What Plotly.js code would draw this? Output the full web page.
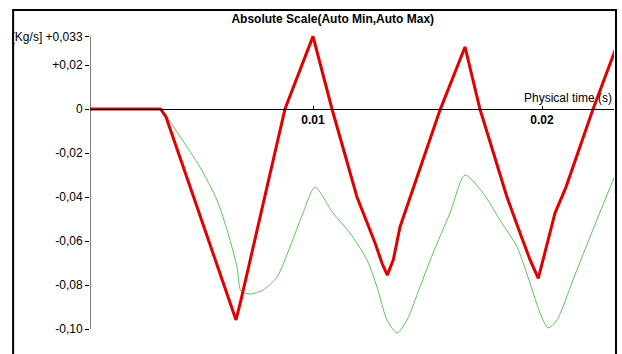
<!DOCTYPE html>
<html>
<head>
<meta charset="utf-8">
<script src="https://cdn.plot.ly/plotly-3.0.1.min.js"></script>
<style>html,body{margin:0;padding:0;background:#fff;}#chart{width:622px;height:354px;}</style>
</head>
<body>
<div id="chart"></div>
<script>
// Red series (thick)
const redTime = [0, 0.003341, 0.003581, 0.006376, 0.006638, 0.006856, 0.008777, 0.01,
  0.01083, 0.01192, 0.01271, 0.01301, 0.013245,
  0.013507, 0.013799, 0.015546, 0.016638,
  0.01729, 0.01847, 0.01904, 0.01948, 0.019838,
  0.020568, 0.021048, 0.02223, 0.02323];
const redValue = [0, 0, -0.0036, -0.0877, -0.0959, -0.0868, 0, 0.033,
  0, -0.04, -0.0609, -0.07, -0.0755,
  -0.0686, -0.0536, -0.0005, 0.0282,
  0, -0.04, -0.0564, -0.0686, -0.077,
  -0.0473, -0.0355, 0, 0.0277];
// Green series (thin)
const greenTime = [0.003393, 0.004236, 0.005066, 0.005808, 0.006288, 0.006681, 0.006856,
  0.007249, 0.007817, 0.008428, 0.008996, 0.009563, 0.010087,
  0.010873, 0.011616, 0.012358, 0.012795, 0.013231, 0.013668,
  0.014105, 0.014672, 0.015240, 0.015983, 0.016638,
  0.017424, 0.018166, 0.018908, 0.019476, 0.019913, 0.020262,
  0.020655, 0.021354, 0.022096, 0.023231];
const greenValue = [0, -0.0132, -0.0264, -0.0414, -0.0564, -0.0718, -0.0827,
  -0.0841, -0.0823, -0.0764, -0.0627, -0.0473, -0.0355,
  -0.0473, -0.0564, -0.0686, -0.0809, -0.0959, -0.1018,
  -0.0959, -0.0809, -0.0655, -0.0473, -0.030,
  -0.0382, -0.0505, -0.0627, -0.0791, -0.0927, -0.0995,
  -0.0959, -0.0777, -0.0582, -0.0291];

const yTickVals = [0.033, 0.02, 0, -0.02, -0.04, -0.06, -0.08, -0.10];
const yTickText = ['[Kg/s] +0,033', '+0,02', '0', '-0,02', '-0,04', '-0,06', '-0,08', '-0,10'];
const xTickVals = [0.01, 0.02];
const xTickText = ['0.01', '0.02'];

const xRange = [0.000262, 0.023144];
const yRange = [-0.105, 0.035909];
const xAxisPos = (0 - yRange[0]) / (yRange[1] - yRange[0]);

const font = {family: 'Liberation Sans, Arial, sans-serif', size: 12, color: '#000'};

const traces = [
  {x: greenTime, y: greenValue, type: 'scatter', mode: 'lines',
   line: {color: '#5cc45c', width: 1, shape: 'spline', smoothing: 0.7}, hoverinfo: 'skip'},
  {x: redTime, y: redValue, type: 'scatter', mode: 'lines',
   line: {color: '#e00000', width: 3}, hoverinfo: 'skip'}
];

const layout = {
  width: 622, height: 354,
  margin: {l: 90, r: 8, t: 30, b: 14},
  paper_bgcolor: '#fff', plot_bgcolor: '#fff',
  showlegend: false,
  font: font,
  title: {text: 'Absolute Scale(Auto Min,Auto Max)', font: {family: font.family, size: 12, color: '#000', weight: 'bold'},
          xref: 'container', yref: 'container', x: 0.535, xanchor: 'center', y: 1 - 19/354, yanchor: 'middle'},
  xaxis: {range: xRange, anchor: 'free', position: xAxisPos, showgrid: false, zeroline: false,
          showline: true, linecolor: '#000', linewidth: 1,
          tickvals: xTickVals, ticktext: xTickText, ticks: 'inside', ticklen: 3, tickcolor: '#000',
          tickfont: {family: font.family, size: 12, color: '#000', weight: 'bold'}, fixedrange: true},
  yaxis: {range: yRange, showgrid: false, zeroline: false, showline: false,
          tickvals: yTickVals, ticktext: yTickText, ticks: 'outside', ticklen: 4, tickcolor: '#000',
          tickfont: font, fixedrange: true},
  shapes: [
    {type: 'line', xref: 'x', yref: 'y', x0: xRange[0], x1: xRange[0], y0: -0.10, y1: 0.033,
     line: {color: '#000', width: 1}},
    {type: 'rect', xref: 'paper', yref: 'paper', x0: -0.1467, x1: 1.0038, y0: -0.2, y1: 1.0645,
     line: {color: '#000', width: 2}, layer: 'above'}
  ],
  annotations: [
    {text: 'Physical time (s)', xref: 'paper', yref: 'y', x: 1, y: 0, xanchor: 'right', yanchor: 'bottom',
     yshift: 2, showarrow: false, font: font}
  ]
};

Plotly.newPlot('chart', traces, layout, {displayModeBar: false, staticPlot: true});
</script>
</body>
</html>
